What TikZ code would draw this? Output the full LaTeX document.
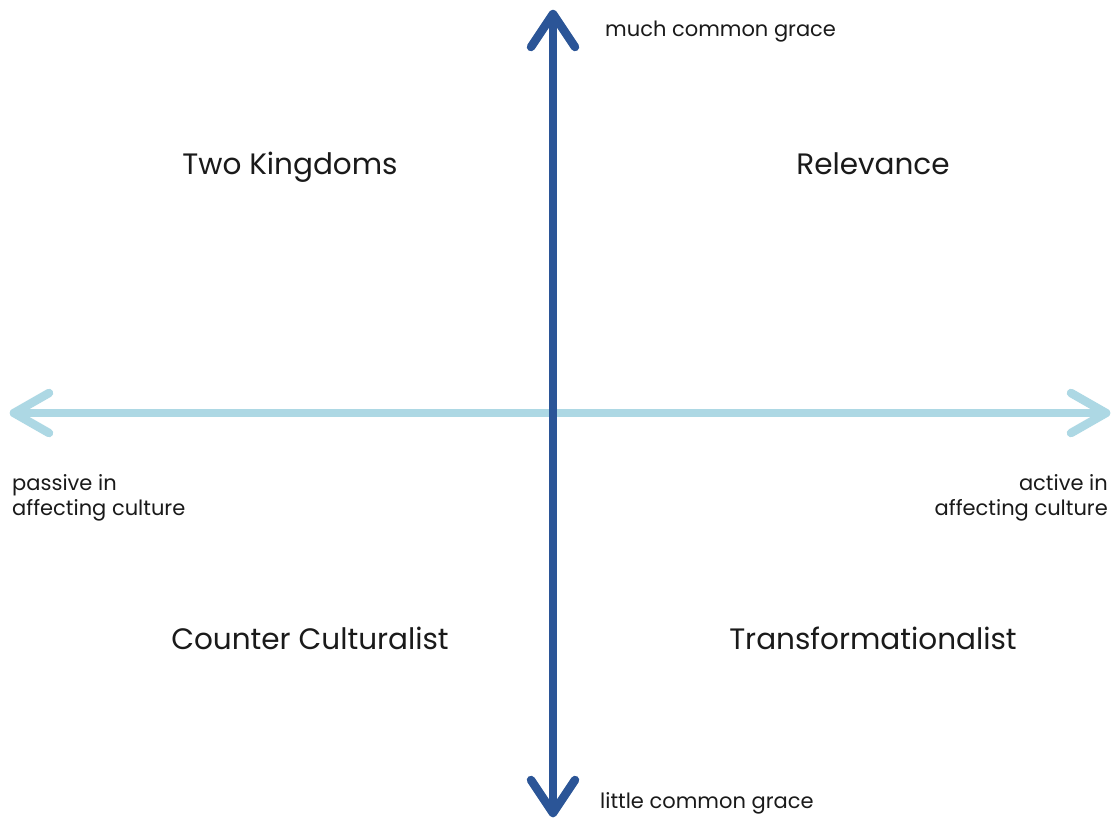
\documentclass[tikz,border=0pt]{standalone}
\usepackage{fontspec}
\setmainfont{Poppins}
\usetikzlibrary{arrows.meta,calc}
\definecolor{darkaxis}{HTML}{2B5597}
\definecolor{lightaxis}{HTML}{ADD8E4}
\definecolor{txt}{HTML}{1A1A1A}
\begin{document}
\begin{tikzpicture}[x=1pt,y=-1pt,
  axisline/.style={line width=8.5pt, line cap=round, line join=round},
  small/.style={font=\fontsize{21}{25}\selectfont, text=txt, inner sep=0pt},
  big/.style={font=\fontsize{29.5}{34}\selectfont, text=txt, inner sep=0pt, anchor=base}]
\useasboundingbox[fill=white] (0,0) rectangle (1115,820);
% horizontal axis
\coordinate (hl) at (14,413);
\coordinate (hr) at (1106,413);
\draw[axisline, lightaxis] (hl) -- (hr);
\draw[axisline, lightaxis] ($(hl)+(35,-20)$) -- (hl) -- ($(hl)+(35,20)$);
\draw[axisline, lightaxis] ($(hr)+(-35,-20)$) -- (hr) -- ($(hr)+(-35,20)$);
% vertical axis
\coordinate (vt) at (553,14);
\coordinate (vb) at (553,813);
\draw[axisline, darkaxis] (vt) -- (vb);
\draw[axisline, darkaxis] ($(vt)+(-22,33)$) -- (vt) -- ($(vt)+(22,33)$);
\draw[axisline, darkaxis] ($(vb)+(-22,-33)$) -- (vb) -- ($(vb)+(22,-33)$);
% axis labels
\node[small, anchor=base west] (much) at (605,36) {much common grace};
\node[small, anchor=base west] (little) at (600,808) {little common grace};
\node[small, anchor=base west] (passive1) at (12,490) {passive in};
\node[small, anchor=base west] (passive2) at (12,515) {affecting culture};
\node[small, anchor=base east] (active1) at (1108,490) {active in};
\node[small, anchor=base east] (active2) at (1108,515) {affecting culture};
% quadrant labels
\node[big] (two) at (290,174) {Two Kingdoms};
\node[big] (rel) at (873,174) {Relevance};
\node[big] (cc) at (310,649) {Counter Culturalist};
\node[big] (tr) at (873,649) {Transformationalist};
\end{tikzpicture}
\end{document}
